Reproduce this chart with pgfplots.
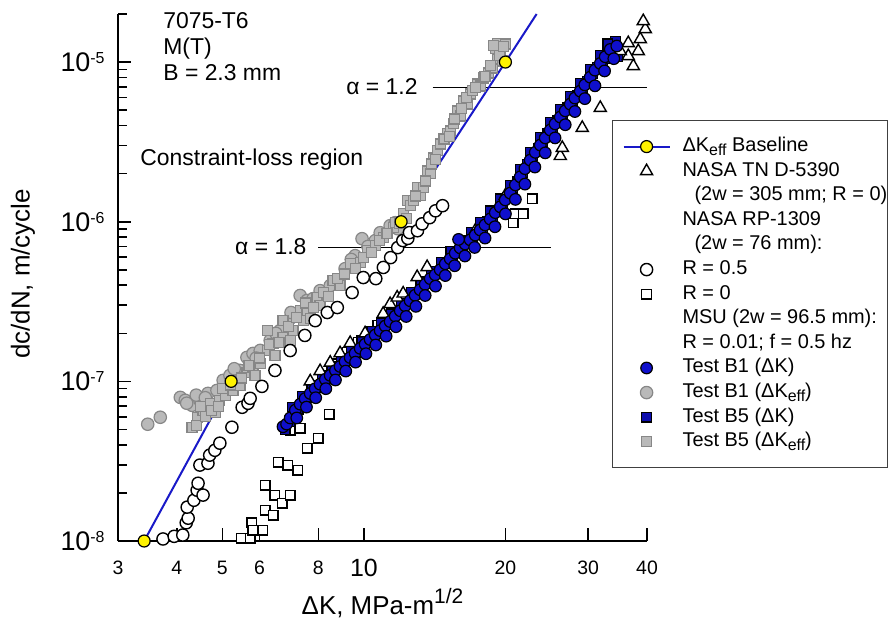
\documentclass[border=0pt]{standalone}
\usepackage{pgfplots}
\pgfplotsset{compat=1.18}
\usepackage{fontspec}
\setmainfont{Liberation Sans}
\newcommand{\fs}[1]{\fontsize{#1}{#1}\selectfont}
\newcommand{\sub}[1]{\raisebox{-0.35ex}{\fontsize{8}{8}\selectfont #1}}
\definecolor{bblue}{RGB}{15,15,205}
\definecolor{lineblue}{RGB}{25,25,200}
\definecolor{gfill}{RGB}{185,185,185}
\definecolor{gedge}{RGB}{135,135,135}
\definecolor{yel}{RGB}{255,242,0}
\pgfplotsset{
  myleg/.style={legend image code/.code={\path (0bp,0bp) (34bp,0bp); \draw[mark repeat=2,mark phase=2,##1] plot coordinates {(5bp,0bp) (16.5bp,0bp) (28bp,0bp)};}},
  openc/.style={only marks, mark=*, mark size=3.05bp, mark options={fill=white, draw=black, line width=0.7bp}},
  opens/.style={only marks, mark=square*, mark size=2.4bp, mark options={fill=white, draw=black, line width=0.7bp}},
  opent/.style={only marks, mark=triangle*, mark size=3.5bp, mark options={fill=white, draw=black, line width=0.7bp}},
  bluec/.style={only marks, mark=*, mark size=2.9bp, mark options={fill=bblue, draw=black, line width=0.6bp}},
  blues/.style={only marks, mark=square*, mark size=2.4bp, mark options={fill=bblue!85!black, draw=black, line width=0.6bp}},
  grayc/.style={only marks, mark=*, mark size=3.1bp, mark options={fill=gfill, draw=gedge, line width=0.6bp}},
  grays/.style={only marks, mark=square*, mark size=2.5bp, mark options={fill=gfill, draw=gedge, line width=0.6bp}},
  baseln/.style={lineblue, line width=1bp, mark=*, mark size=3bp, mark options={fill=yel, draw=black, line width=0.6bp}},
}
\begin{document}
\begin{tikzpicture}
\begin{axis}[
  scale only axis, width=264.5bp, height=263.5bp,
  xmode=log, ymode=log,
  xmin=3, xmax=40, ymin=1e-8, ymax=2e-5,
  axis x line=bottom, axis y line=left, axis line style={-, line width=1bp},
  tick align=inside,
  major tick length=6.5bp, minor tick length=4.5bp,
  tick style={line width=0.8bp, black},
  xtick={3,4,5,6,8,10,20,30,40},
  xticklabels={3,4,5,6,8,{\fs{12.5}10},20,30,40},
  xminorticks=false,
  ytick={1e-8,1e-7,1e-6,1e-5},
  yticklabels={10\raisebox{4bp}{\fs{8}-8},10\raisebox{4bp}{\fs{8}-7},10\raisebox{4bp}{\fs{8}-6},10\raisebox{4bp}{\fs{8}-5}},
  minor ytick={2e-8,3e-8,4e-8,5e-8,6e-8,7e-8,8e-8,9e-8,2e-7,3e-7,4e-7,5e-7,6e-7,7e-7,8e-7,9e-7,2e-6,3e-6,4e-6,5e-6,6e-6,7e-6,8e-6,9e-6,2e-5},
  xticklabel style={font=\fs{9.75}, anchor=center, yshift=-13.5bp, inner sep=0pt},
  yticklabel style={font=\fs{13.5}, anchor=base east, xshift=-6.5bp, yshift=-4.7bp, inner sep=0pt},
  xlabel={ΔK, MPa-m\raisebox{5.3bp}{\fs{10.5}1/2}},
  ylabel={dc/dN, m/cycle},
  xlabel style={font=\fs{13}, at={(axis description cs:0.5,-0.1177)}, anchor=center},
  ylabel style={font=\fs{13}, at={(axis description cs:-0.1796,0.5066)}, anchor=center},
  clip=false,
  legend style={at={(rel axis cs:0.9338,0.7989)}, anchor=north west, draw=black!75, line width=0.6bp, fill=white,
    inner xsep=0pt, inner ysep=8bp, font=\fs{10}, row sep=2.3bp, column sep=0pt,
    nodes={inner sep=0pt, text height=7.5bp, text depth=2.5bp}},
  legend cell align=left,
]
% legend entries
\addlegendimage{baseln, myleg}\addlegendentry{ΔK\sub{eff} Baseline}
\addlegendimage{opent, myleg}\addlegendentry{NASA TN D-5390}
\addlegendimage{empty legend}\addlegendentry{\hspace*{6bp}(2w = 305 mm; R = 0)}
\addlegendimage{empty legend}\addlegendentry{NASA RP-1309}
\addlegendimage{empty legend}\addlegendentry{\hspace*{6bp}(2w = 76 mm):}
\addlegendimage{openc, myleg}\addlegendentry{R = 0.5}
\addlegendimage{opens, myleg}\addlegendentry{R = 0}
\addlegendimage{empty legend}\addlegendentry{MSU (2w = 96.5 mm):}
\addlegendimage{empty legend}\addlegendentry{R = 0.01; f = 0.5 hz}
\addlegendimage{bluec, myleg}\addlegendentry{Test B1 (ΔK)}
\addlegendimage{grayc, myleg}\addlegendentry{Test B1 (ΔK\sub{eff})}
\addlegendimage{blues, myleg}\addlegendentry{Test B5 (ΔK)}
\addlegendimage{grays, myleg}\addlegendentry{Test B5 (ΔK\sub{eff})}

% Test B1 (Delta K_eff) gray circles
\addplot[grayc, forget plot] coordinates {
(3.47,5.39e-8) (3.69,5.96e-8) (4.07,7.94e-8) (4.17,7.61e-8) (4.31,7.08e-8) (4.48,7.61e-8)
(4.66,8.41e-8) (4.87,8.78e-8) (5.02,1.015e-7) (5.19,1.09e-7) (5.45,1.172e-7) (5.64,1.413e-7)
(5.81,1.496e-7) (6.02,1.563e-7) (6.32,1.804e-7) (6.63,2.08e-7) (6.97,2.48e-7) (7.32,3.45e-7)
(7.57,3.21e-7) (8.07,3.70e-7) (8.48,3.98e-7) (9.12,5.08e-7) (9.58,6.13e-7) (9.91,7.83e-7)
(10.57,7.61e-7) (10.83,8.53e-7) (11.37,9.44e-7) (11.66,9.86e-7) (11.80,9.04e-7)
(4.2,7.3e-8) (4.4,8.2e-8) (4.6,7.9e-8) (5.3,1.2e-7) (5.9,1.4e-7) (6.5,2.0e-7)
(7.0,2.7e-7) (7.8,3.3e-7) (9.4,5.8e-7) (10.2,7.0e-7)
};
% Test B5 (Delta K_eff) gray squares
\addplot[grays, forget plot] coordinates {
(4.31,5.16e-8) (4.42,5.96e-8) (4.55,6.59e-8) (4.71,7.29e-8) (4.83,6.40e-8) (4.94,7.61e-8)
(5.07,8.18e-8) (5.27,8.78e-8) (5.37,1.015e-7) (5.45,9.44e-8) (5.64,1.138e-7) (5.81,1.224e-7)
(5.87,1.09e-7) (6.02,1.296e-7) (6.23,1.563e-7) (6.41,1.728e-7) (6.47,1.453e-7) (6.73,1.884e-7)
(6.23,2.08e-7) (6.73,2.405e-7) (6.97,1.804e-7) (7.07,2.08e-7) (7.32,2.78e-7) (7.43,2.405e-7)
(7.57,2.78e-7) (7.69,2.48e-7) (7.95,3.35e-7) (8.07,2.985e-7) (8.60,4.28e-7) (8.90,3.98e-7)
(9.35,5.46e-7) (9.82,5.54e-7) (10.16,6.59e-7) (10.57,7.08e-7) (10.99,7.94e-7) (11.54,9.17e-7)
(11.66,9.86e-7) (12.12,1.122e-6) (12.36,1.353e-6) (12.54,1.259e-6) (12.73,1.353e-6) (12.98,1.632e-6)
(13.17,1.454e-6) (13.37,1.632e-6) (13.63,2.08e-6) (13.84,1.995e-6) (14.04,2.51e-6) (14.32,2.78e-6)
(14.53,3.07e-6) (15.04,3.55e-6) (15.26,3.70e-6) (15.49,4.10e-6) (15.79,4.94e-6) (16.02,4.60e-6)
(16.26,5.70e-6) (16.59,5.46e-6) (16.83,6.31e-6) (17.42,7.29e-6) (17.67,7.08e-6) (17.94,7.94e-6)
(18.38,8.53e-6) (18.75,9.17e-6) (19.21,1.044e-5) (19.69,1.015e-5) (19.50,1.171e-5) (19.02,1.223e-5)
(19.21,1.314e-5) (19.98,1.296e-5)
(4.4,5.3e-8) (4.6,6.0e-8) (4.75,6.6e-8) (4.5,7.0e-8) (4.9,7.0e-8)
(5.0,9.0e-8) (5.2,9.5e-8) (5.5,1.05e-7) (5.7,1.25e-7) (6.0,1.4e-7) (6.3,1.7e-7) (6.6,1.75e-7)
(6.9,2.2e-7) (7.2,2.5e-7) (7.5,3.1e-7) (7.8,2.9e-7) (8.2,3.6e-7) (8.4,3.4e-7) (8.8,4.4e-7)
(9.1,4.7e-7) (9.6,5.1e-7) (10.0,6.0e-7) (10.4,6.4e-7) (10.8,7.6e-7) (11.2,8.4e-7) (11.9,9.8e-7)
(12.3,1.05e-6) (12.9,1.45e-6) (13.5,1.8e-6) (13.9,2.3e-6) (14.2,2.45e-6) (14.8,3.3e-6) (15.2,3.4e-6)
(15.6,4.4e-6) (16.1,5.1e-6) (16.5,6.0e-6) (17.0,6.6e-6) (17.3,6.9e-6) (18.1,8.1e-6) (18.6,9.5e-6)
(19.4,1.1e-5) (19.8,1.25e-5) (18.9,1.27e-5)
};
% NASA RP-1309, R = 0.5 open circles
\addplot[openc, forget plot] coordinates {
(3.74,1.03e-8) (3.95,1.07e-8) (4.12,1.09e-8) (4.19,1.30e-8) (4.23,1.39e-8) (4.21,1.63e-8)
(4.35,1.80e-8) (4.42,2.08e-8) (4.44,2.30e-8) (4.55,1.94e-8) (4.48,2.99e-8) (4.66,3.07e-8)
(4.70,3.45e-8) (4.82,3.70e-8) (4.94,4.10e-8) (5.24,5.16e-8) (5.51,6.88e-8) (5.67,7.29e-8)
(5.73,7.83e-8) (6.07,9.30e-8) (6.47,1.17e-7) (6.97,1.56e-7) (7.49,1.94e-7) (7.88,2.40e-7)
(8.36,2.70e-7) (8.78,2.90e-7) (9.44,3.60e-7) (9.97,4.47e-7) (10.6,4.40e-7) (11.0,5.17e-7)
(11.4,5.96e-7) (11.8,6.88e-7) (12.1,7.62e-7) (12.4,7.86e-7) (12.5,8.55e-7) (13.0,8.78e-7)
(13.3,9.70e-7) (13.8,1.06e-6) (14.2,1.17e-6) (14.7,1.26e-6)
};
% NASA RP-1309, R = 0 open squares
\addplot[opens, forget plot] coordinates {
(5.48,1.04e-8) (5.73,1.04e-8) (5.78,1.30e-8) (5.81,1.17e-8) (6.10,1.17e-8) (6.17,1.56e-8)
(6.17,2.24e-8) (6.47,1.94e-8) (6.70,1.73e-8) (6.97,1.94e-8) (6.41,1.45e-8) (6.57,3.11e-8)
(6.89,2.99e-8) (7.24,2.78e-8) (7.57,3.81e-8) (8.00,4.40e-8) (8.43,6.23e-8) (6.97,4.94e-8)
(7.32,5.09e-8) (7.80,8.42e-8) (8.19,1.04e-7) (8.78,1.29e-7) (9.21,1.52e-7) (9.72,1.75e-7)
(10.2,1.94e-7) (10.7,2.24e-7) (11.1,2.51e-7) (13.17,3.98e-7) (16.02,7.08e-7) (20.78,9.86e-7)
(20.98,1.122e-6) (21.82,1.122e-6) (22.80,1.392e-6)
};
% Test B5 (Delta K) blue squares
\addplot[blues, forget plot] coordinates {
(6.80,5.0e-8) (6.95,5.6e-8) (7.10,6.2e-8) (7.25,6.7e-8) (7.45,7.4e-8) (7.60,7.9e-8)
(7.80,8.6e-8) (8.00,9.1e-8) (8.20,9.8e-8) (8.40,1.04e-7) (8.60,1.10e-7) (8.82,1.18e-7)
(9.05,1.26e-7) (9.25,1.34e-7) (9.50,1.42e-7) (9.72,1.52e-7) (9.95,1.62e-7) (10.2,1.74e-7)
(10.45,1.86e-7) (10.7,1.98e-7) (10.95,2.12e-7) (11.25,2.27e-7) (11.5,2.42e-7) (11.8,2.62e-7)
(12.1,2.84e-7) (12.4,3.06e-7) (12.7,3.30e-7) (13.0,3.58e-7) (13.35,3.88e-7) (13.7,4.2e-7)
(14.0,4.5e-7) (14.35,4.8e-7) (14.7,5.15e-7) (15.1,5.6e-7) (15.45,6.05e-7) (15.85,6.5e-7)
(16.2,7.0e-7) (16.6,7.4e-7) (17.0,7.9e-7) (17.45,8.5e-7) (17.9,9.2e-7) (18.35,1.0e-6)
(18.8,1.08e-6) (19.25,1.18e-6) (19.75,1.30e-6) (20.2,1.43e-6) (20.75,1.62e-6) (21.25,1.80e-6)
(21.8,2.03e-6) (22.3,2.30e-6) (22.85,2.58e-6) (23.45,2.88e-6) (24.0,3.15e-6) (24.6,3.55e-6)
(25.2,3.9e-6) (25.85,4.3e-6) (26.5,4.75e-6) (27.15,5.2e-6) (27.8,5.7e-6) (28.5,6.2e-6)
(29.2,6.85e-6) (29.9,7.6e-6) (30.7,8.5e-6) (31.4,9.3e-6) (32.2,1.02e-5) (33.0,1.12e-5)
(33.8,1.25e-5) (34.3,1.35e-5) (33.6,1.05e-5) (34.6,1.08e-5)
(7.05,6.9e-8) (7.4,8.1e-8) (7.75,9.4e-8) (8.15,1.09e-7) (8.55,1.24e-7) (8.95,1.40e-7)
(9.4,1.58e-7) (9.9,1.80e-7) (10.4,2.05e-7) (10.9,2.33e-7) (11.45,2.65e-7) (12.0,3.1e-7)
(12.6,3.6e-7) (13.25,4.2e-7) (13.9,4.9e-7) (14.6,5.6e-7) (15.3,6.5e-7) (16.1,7.6e-7)
(16.9,8.6e-7) (17.7,9.9e-7) (18.6,1.17e-6) (19.5,1.39e-6) (20.5,1.69e-6) (21.5,2.13e-6)
(22.6,2.72e-6) (23.7,3.37e-6) (24.9,4.2e-6) (26.2,5.05e-6) (27.5,6.1e-6) (28.9,7.35e-6)
(30.3,9.0e-6) (31.8,1.1e-5) (33.0,1.3e-5)
};
% NASA TN D-5390 triangles
\addplot[opent, forget plot] coordinates {
(7.69,1.0e-7) (8.07,1.16e-7) (8.48,1.31e-7) (8.90,1.50e-7) (9.35,1.74e-7) (10.06,2.0e-7)
(10.99,2.65e-7) (11.37,3.05e-7) (11.77,3.35e-7) (12.12,3.55e-7) (12.98,4.5e-7) (13.63,5.2e-7)
(15.64,6.31e-7) (17.25,8.78e-7) (19.98,1.454e-6) (21.50,1.857e-6) (26.16,2.58e-6) (26.42,2.90e-6)
(29.13,3.87e-6) (31.82,5.16e-6) (37.41,9.44e-6) (36.50,1.09e-5) (38.33,1.171e-5) (35.09,1.171e-5)
(36.50,1.314e-5) (38.71,1.392e-5) (39.67,1.608e-5) (39.28,1.804e-5)
};
% Test B1 (Delta K) blue circles
\addplot[bluec, forget plot] coordinates {
(6.73,5.2e-8) (6.85,5.4e-8) (6.97,5.9e-8) (7.15,6.6e-8) (7.32,7.2e-8) (7.50,7.8e-8)
(7.69,8.4e-8) (7.88,9.0e-8) (8.07,9.6e-8) (8.28,1.03e-7) (8.48,1.09e-7) (8.70,1.17e-7)
(8.90,1.24e-7) (9.12,1.33e-7) (9.35,1.41e-7) (9.58,1.50e-7) (9.82,1.61e-7) (10.06,1.71e-7)
(10.31,1.83e-7) (10.57,1.95e-7) (10.83,2.08e-7) (11.10,2.22e-7) (11.37,2.37e-7) (11.66,2.56e-7)
(11.95,2.77e-7) (12.24,2.97e-7) (12.54,3.20e-7) (12.85,3.46e-7) (13.17,3.75e-7) (13.50,4.05e-7)
(13.84,4.40e-7) (14.18,4.65e-7) (14.53,5.00e-7) (14.90,5.45e-7) (15.26,5.86e-7) (15.64,6.35e-7)
(16.02,6.86e-7) (16.42,7.25e-7) (16.83,7.70e-7) (17.25,8.25e-7) (17.67,8.88e-7) (18.10,9.55e-7)
(18.56,1.04e-6) (19.03,1.14e-6) (19.50,1.24e-6) (19.98,1.37e-6) (20.47,1.51e-6) (21.0,1.70e-6)
(21.50,1.91e-6) (22.0,2.15e-6) (22.58,2.43e-6) (23.15,2.72e-6) (23.72,3.02e-6) (24.3,3.35e-6)
(24.91,3.75e-6) (25.5,4.10e-6) (26.16,4.52e-6) (26.8,4.95e-6) (27.47,5.45e-6) (28.1,5.95e-6)
(28.85,6.57e-6) (29.5,7.2e-6) (30.29,8.04e-6) (31.0,8.9e-6) (31.82,9.8e-6) (32.6,1.08e-5)
(33.42,1.20e-5) (34.5,1.26e-5) (15.9,7.75e-7)
(7.2,5.9e-8) (7.55,6.9e-8) (7.9,7.9e-8) (8.3,9.0e-8) (8.7,1.02e-7) (9.15,1.16e-7)
(9.6,1.32e-7) (10.1,1.49e-7) (10.6,1.69e-7) (11.15,1.92e-7) (11.7,2.2e-7) (12.3,2.55e-7)
(12.9,2.95e-7) (13.5,3.45e-7) (14.2,3.95e-7) (14.9,4.6e-7) (15.6,5.3e-7) (16.4,6.1e-7)
(17.2,6.9e-7) (18.1,7.9e-7) (19.0,9.3e-7) (20.0,1.12e-6) (21.0,1.38e-6) (22.0,1.72e-6)
(23.1,2.2e-6) (24.3,2.7e-6) (25.5,3.35e-6) (26.8,4.05e-6) (28.1,4.9e-6) (29.5,5.9e-6)
(31.0,7.1e-6) (32.5,8.8e-6) (34.0,1.05e-5)
};
% alpha lines
\addplot[black, line width=0.7bp, forget plot] coordinates {(14,6.9e-6) (40,6.9e-6)};
\addplot[black, line width=0.7bp, forget plot] coordinates {(8,6.9e-7) (25,6.9e-7)};
% Delta K_eff baseline
\addplot[lineblue, line width=1bp, forget plot] coordinates {(20,1e-5) (23.3,2e-5)};
\addplot[baseln, forget plot] coordinates {(3.41,1e-8) (5.22,1e-7) (12,1e-6) (20,1e-5)};

\node[anchor=north west, align=left, font=\fontsize{11.5}{13}\selectfont, inner sep=0pt] at (rel axis cs:0.085,1.004) {7075-T6\\M(T)\\B = 2.3 mm};
\node[anchor=west, font=\fs{11.5}, inner sep=0pt] at (rel axis cs:0.0416,0.723) {Constraint-loss region};
\node[anchor=east, font=\fs{11.5}, inner sep=0pt] at (rel axis cs:0.567,0.8615) {α = 1.2};
\node[anchor=east, font=\fs{11.5}, inner sep=0pt] at (rel axis cs:0.357,0.558) {α = 1.8};
\end{axis}
\pgfresetboundingbox
\path[use as bounding box] (-59bp,-42.5bp) rectangle (385bp,270.5bp);
\end{tikzpicture}
\end{document}
